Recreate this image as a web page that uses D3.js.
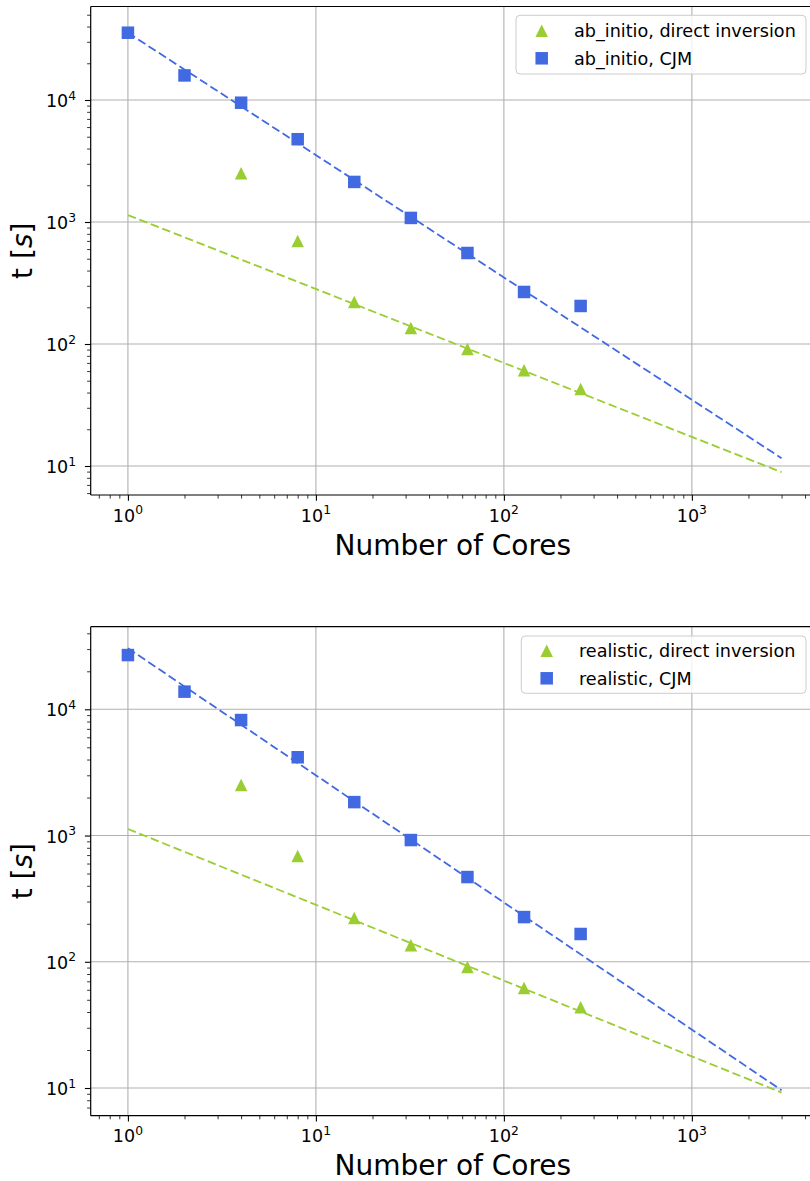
<!DOCTYPE html>
<html><head><meta charset="utf-8">
<script src="https://cdn.jsdelivr.net/npm/d3@7"></script>
<style>body{margin:0;background:#fff} svg{display:block}</style>
</head><body>
<script>
// ---- data ----
const cores = [1, 2, 4, 8, 16, 32, 64, 128, 256];
const coresDirect = [4, 8, 16, 32, 64, 128, 256];
const abInitioCJM = [35600, 15900, 9500, 4770, 2130, 1080, 557, 267, 205];
const abInitioDirect = [2510, 698, 221, 135, 91, 61, 42.8];
const realisticCJM = [26900, 13800, 8220, 4170, 1840, 921, 469, 226, 166];
const realisticDirect = [2510, 688, 222, 135, 91, 62, 43.7];
const fitX = [1, 3000];
const abInitioCJMFit = [35600, 11.6];
const abInitioDirectFit = [1140, 8.9];
const realisticCJMFit = [30500, 9.6];
const realisticDirectFit = [1127, 9.2];
const xMajor = [1, 10, 100, 1000];
const yMajor = [10, 100, 1000, 10000];
const legendTop = ["ab_initio, direct inversion", "ab_initio, CJM"];
const legendBottom = ["realistic, direct inversion", "realistic, CJM"];
const xLabel = "Number of Cores";

const GREEN = "#9acd32", BLUE = "#4169e1";
const W = 810, H = 1181;
const FONT = "'DejaVu Sans', sans-serif";

const svg = d3.select("body").append("svg")
  .attr("width", W).attr("height", H)
  .style("font-family", FONT);

function minorTicks(lo, hi) {
  const out = [];
  for (let e = Math.floor(Math.log10(lo)); e <= Math.ceil(Math.log10(hi)); e++) {
    for (let m = 2; m <= 9; m++) {
      const v = m * Math.pow(10, e);
      if (v >= lo && v <= hi) out.push(v);
    }
  }
  return out;
}

function powLabel(sel, v) {
  const e = Math.round(Math.log10(v));
  sel.append("tspan").text("10");
  sel.append("tspan").attr("dy", -7.5).style("font-size", "12.3px").text(String(e));
}

function panel(p, idx) {
  const left = 90.7, right = 815;
  const x = d3.scaleLog().domain([Math.pow(10, -0.198), Math.pow(10, 3.655)]).range([left, right]);
  const y = d3.scaleLog().domain([Math.pow(10, p.ylo), Math.pow(10, p.yhi)]).range([p.bottom, p.top]);
  const g = svg.append("g");
  const clipId = "clip" + idx;
  g.append("clipPath").attr("id", clipId).append("rect")
    .attr("x", left).attr("y", p.top).attr("width", right - left).attr("height", p.bottom - p.top);

  // grid
  g.append("g").selectAll("line").data(xMajor).join("line")
    .attr("x1", d => x(d)).attr("x2", d => x(d)).attr("y1", p.top).attr("y2", p.bottom)
    .attr("stroke", "#b0b0b0").attr("stroke-width", 1.1);
  g.append("g").selectAll("line").data(yMajor).join("line")
    .attr("y1", d => y(d)).attr("y2", d => y(d)).attr("x1", left).attr("x2", right)
    .attr("stroke", "#b0b0b0").attr("stroke-width", 1.1);

  // axes ticks via d3 axes
  const xMinor = minorTicks(x.domain()[0], x.domain()[1]);
  const yMinor = minorTicks(y.domain()[0], y.domain()[1]);
  const axStyle = a => { a.select(".domain").remove(); a.selectAll("line").attr("stroke", "#000"); };
  g.append("g").attr("transform", `translate(0,${p.bottom})`)
    .call(d3.axisBottom(x).tickValues(xMajor).tickSize(5.8).tickFormat(""))
    .call(axStyle).selectAll("line").attr("stroke-width", 1.1);
  g.append("g").attr("transform", `translate(0,${p.bottom})`)
    .call(d3.axisBottom(x).tickValues(xMinor).tickSize(3.6).tickFormat(""))
    .call(axStyle).selectAll("line").attr("stroke-width", 0.8);
  g.append("g").attr("transform", `translate(${left},0)`)
    .call(d3.axisLeft(y).tickValues(yMajor).tickSize(5.8).tickFormat(""))
    .call(axStyle).selectAll("line").attr("stroke-width", 1.1);
  g.append("g").attr("transform", `translate(${left},0)`)
    .call(d3.axisLeft(y).tickValues(yMinor).tickSize(3.6).tickFormat(""))
    .call(axStyle).selectAll("line").attr("stroke-width", 0.8);

  // tick labels
  xMajor.forEach(v => {
    const t = g.append("text").attr("x", x(v)).attr("y", p.bottom + 26.5)
      .attr("text-anchor", "middle").style("font-size", "17.5px").attr("fill", "#000");
    powLabel(t, v);
  });
  yMajor.forEach(v => {
    const t = g.append("text").attr("x", 76).attr("y", y(v) + 7)
      .attr("text-anchor", "end").style("font-size", "17.5px").attr("fill", "#000");
    powLabel(t, v);
  });

  // axis labels
  g.append("text").attr("x", (left + right) / 2).attr("y", p.bottom + 59.5)
    .attr("text-anchor", "middle").style("font-size", "28px").text(xLabel);
  const yl = g.append("text")
    .attr("transform", `translate(31.7,${(p.top + p.bottom) / 2}) rotate(-90)`)
    .attr("text-anchor", "middle").style("font-size", "28px");
  yl.append("tspan").text("t [");
  yl.append("tspan").style("font-style", "italic").text("s");
  yl.append("tspan").text("]");

  // data layer
  const d = g.append("g").attr("clip-path", `url(#${clipId})`);
  const line = d3.line().x(e => x(e[0])).y(e => y(e[1]));
  d.append("path").datum(fitX.map((v, i) => [v, p.directFit[i]])).attr("d", line)
    .attr("fill", "none").attr("stroke", GREEN).attr("stroke-width", 1.8).attr("stroke-dasharray", "8.5,3.8");
  d.append("path").datum(fitX.map((v, i) => [v, p.cjmFit[i]])).attr("d", line)
    .attr("fill", "none").attr("stroke", BLUE).attr("stroke-width", 1.8).attr("stroke-dasharray", "8.5,3.8");

  const s = 12.5, h = s / 2;
  const triPath = `M0,${-h}L${h},${h}L${-h},${h}Z`;
  d.append("g").selectAll("path").data(coresDirect.map((c, i) => [c, p.direct[i]])).join("path")
    .attr("d", triPath)
    .attr("transform", e => `translate(${x(e[0])},${y(e[1])})`)
    .attr("fill", GREEN);
  d.append("g").selectAll("rect").data(cores.map((c, i) => [c, p.cjm[i]])).join("rect")
    .attr("x", e => x(e[0]) - h).attr("y", e => y(e[1]) - h)
    .attr("width", s).attr("height", s).attr("fill", BLUE);

  // spines
  g.append("line").attr("x1", left).attr("x2", left).attr("y1", p.top).attr("y2", p.bottom)
    .attr("stroke", "#000").attr("stroke-width", 1.2);
  g.append("line").attr("x1", left).attr("x2", right).attr("y1", p.bottom).attr("y2", p.bottom)
    .attr("stroke", "#000").attr("stroke-width", 1.2);
  g.append("line").attr("x1", left).attr("x2", right).attr("y1", p.top).attr("y2", p.top)
    .attr("stroke", "#000").attr("stroke-width", 1.2);

  // legend
  const L = p.legend;
  const lg = g.append("g");
  lg.append("rect").attr("x", L.x0).attr("y", L.y0).attr("width", L.x1 - L.x0).attr("height", L.y1 - L.y0)
    .attr("rx", 4).attr("fill", "#fff").attr("fill-opacity", 0.8).attr("stroke", "#cccccc").attr("stroke-width", 1);
  lg.append("path").attr("d", triPath)
    .attr("transform", `translate(${L.mx},${L.r1})`).attr("fill", GREEN);
  lg.append("rect").attr("x", L.mx - h).attr("y", L.r2 - h).attr("width", s).attr("height", s).attr("fill", BLUE);
  p.labels.forEach((t, i) => {
    lg.append("text").attr("x", L.tx).attr("y", (i === 0 ? L.r1 : L.r2) + 6.3)
      .style("font-size", "17.6px").text(t);
  });
}

panel({
  top: 6.5, bottom: 495, ylo: 0.7623, yhi: 4.7664,
  cjm: abInitioCJM, direct: abInitioDirect, cjmFit: abInitioCJMFit, directFit: abInitioDirectFit,
  labels: legendTop,
  legend: { x0: 516, x1: 806, y0: 15.3, y1: 74, mx: 541.7, tx: 574, r1: 30.7, r2: 58.3 }
}, 0);
panel({
  top: 626.7, bottom: 1115.7, ylo: 0.7806, yhi: 4.6544,
  cjm: realisticCJM, direct: realisticDirect, cjmFit: realisticCJMFit, directFit: realisticDirectFit,
  labels: legendBottom,
  legend: { x0: 521.3, x1: 806, y0: 636, y1: 693.3, mx: 546.7, tx: 579, r1: 650.7, r2: 678.3 }
}, 1);
</script>
</body></html>
